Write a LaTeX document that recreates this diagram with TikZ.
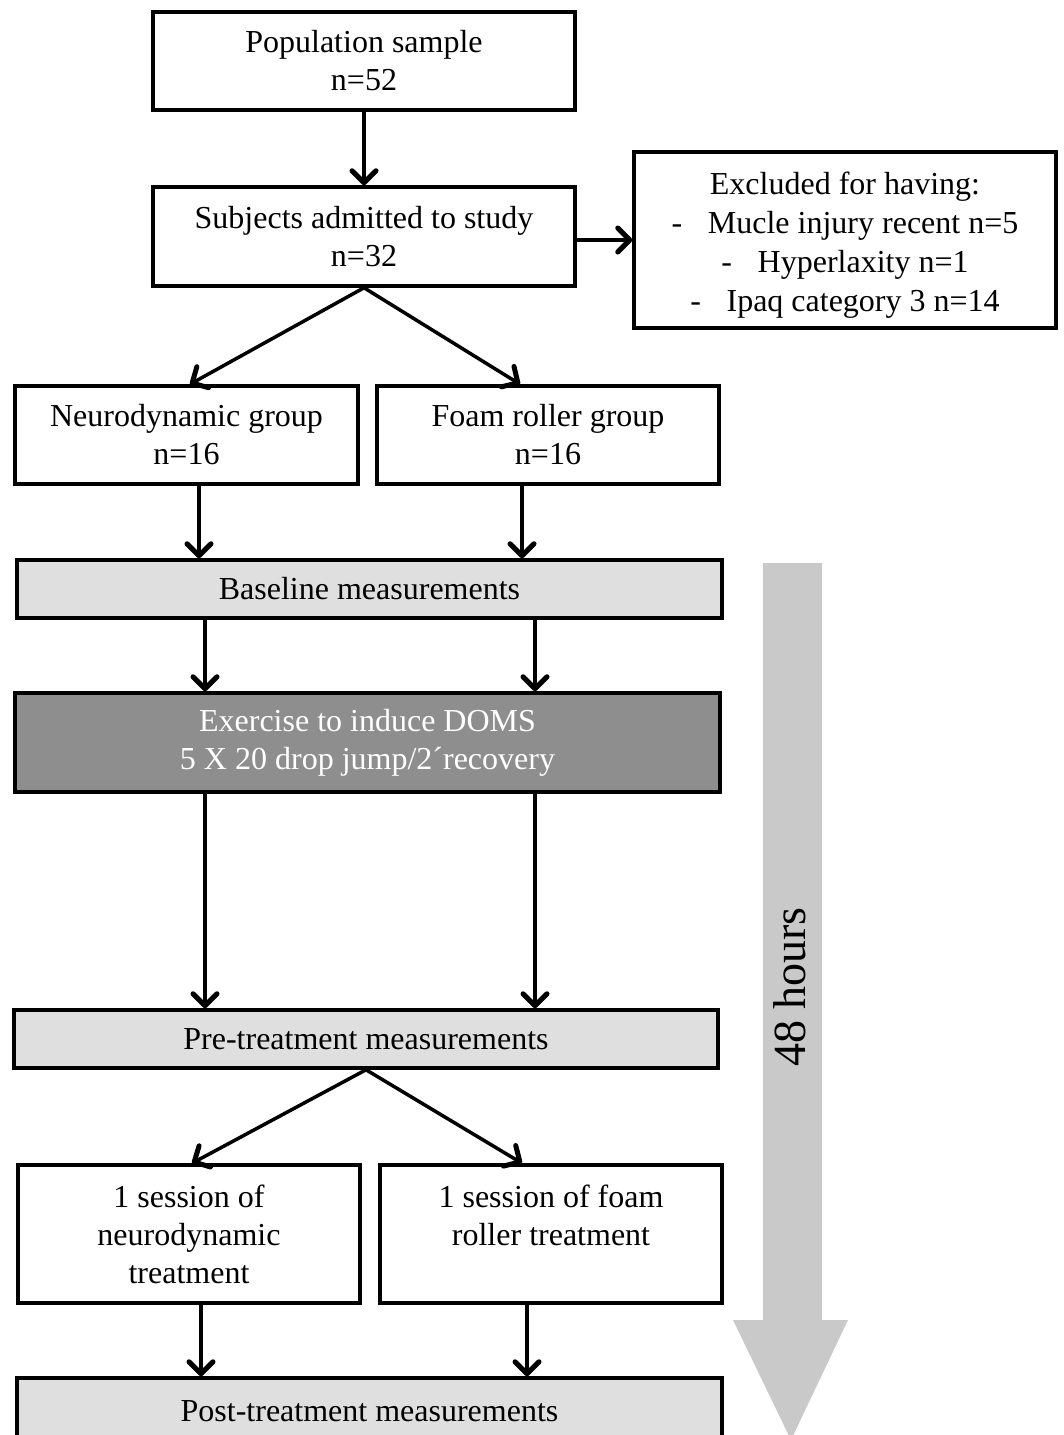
\documentclass[tikz,border=0pt]{standalone}
\usepackage{fontspec}
\setmainfont{Liberation Serif}
\usetikzlibrary{arrows.meta,positioning}

\definecolor{lightbox}{HTML}{DFDFDF}
\definecolor{darkbox}{HTML}{8E8E8E}
\definecolor{hrsgrey}{HTML}{C9C9C9}
\newcommand{\boxfont}{\fontsize{32}{38}\selectfont}

\begin{document}
\begin{tikzpicture}[
    x=1pt, y=-1pt,
    box/.style={draw=black, line width=3.5pt, align=center, font=\boxfont, inner sep=0pt},
    meas/.style={box, fill=lightbox},
    arr/.style={-{Straight Barb[length=12pt,width=24pt,line width=5pt,round]}, line width=3.5pt, black},
]
\useasboundingbox (0,0) rectangle (1063,1435);

% Time arrow on the right
\fill[hrsgrey] (763,563) -- (822,563) -- (822,1320) -- (848,1320) -- (791,1440) -- (733,1320) -- (763,1320) -- cycle;
\node[rotate=90, font=\fontsize{46}{50}\selectfont] (hrs) at (790,987) {48 hours};

% Enrolment
\node[box, minimum width=422, minimum height=98] (pop) at (364,61) {Population sample\\n=52};
\node[box, minimum width=422, minimum height=99] (adm) at (364,236.5) {Subjects admitted to study\\n=32};
\node[box, font=\fontsize{32}{39}\selectfont, minimum width=422, minimum height=176] (excl) at (845,240) {\\[-6pt]Excluded for having:\\-\hspace{0.55em} Mucle injury recent n=5\\-\hspace{0.55em} Hyperlaxity n=1\\-\hspace{0.55em} Ipaq category 3 n=14};

% Groups
\node[box, minimum width=343, minimum height=98] (neuro) at (186.5,435) {Neurodynamic group\\n=16};
\node[box, minimum width=342, minimum height=98] (foam) at (548,435) {Foam roller group\\n=16};

% Measurements and exercise
\node[meas, minimum width=705, minimum height=58] (base) at (369.5,589) {Baseline measurements};
\node[box, fill=darkbox, text=white, minimum width=705, minimum height=99] (exer) at (367.5,742.5) {Exercise to induce DOMS\\5 X 20 drop jump/2´recovery};
\node[meas, minimum width=704, minimum height=58] (pre) at (366,1039) {Pre-treatment measurements};

% Treatments
\node[box, minimum width=342, minimum height=138] (sneuro) at (189,1234) {1 session of\\neurodynamic\\treatment};
\node[box, minimum width=342, minimum height=138] (sfoam) at (551,1234) {1 session of foam\\roller treatment\\\mbox{}};
\node[meas, minimum width=705, minimum height=67] (post) at (369.5,1411.5) {Post-treatment measurements};

% Arrows
\draw[arr] (pop) -- (adm);
\draw[arr] (adm.east |- excl.west) -- (excl.west);
\draw[arr] (adm.south) -- (neuro.north -| 190,0);
\draw[arr] (adm.south) -- (foam.north -| 520,0);
\draw[arr] (neuro.south -| 199,0) -- (base.north -| 199,0);
\draw[arr] (foam.south -| 522,0) -- (base.north -| 522,0);
\draw[arr] (base.south -| 205,0) -- (exer.north -| 205,0);
\draw[arr] (base.south -| 535,0) -- (exer.north -| 535,0);
\draw[arr] (exer.south -| 205,0) -- (pre.north -| 205,0);
\draw[arr] (exer.south -| 535,0) -- (pre.north -| 535,0);
\draw[arr] (pre.south) -- (sneuro.north -| 192,0);
\draw[arr] (pre.south) -- (sfoam.north -| 522,0);
\draw[arr] (sneuro.south -| 201,0) -- (post.north -| 201,0);
\draw[arr] (sfoam.south -| 527,0) -- (post.north -| 527,0);

\end{tikzpicture}
\end{document}
